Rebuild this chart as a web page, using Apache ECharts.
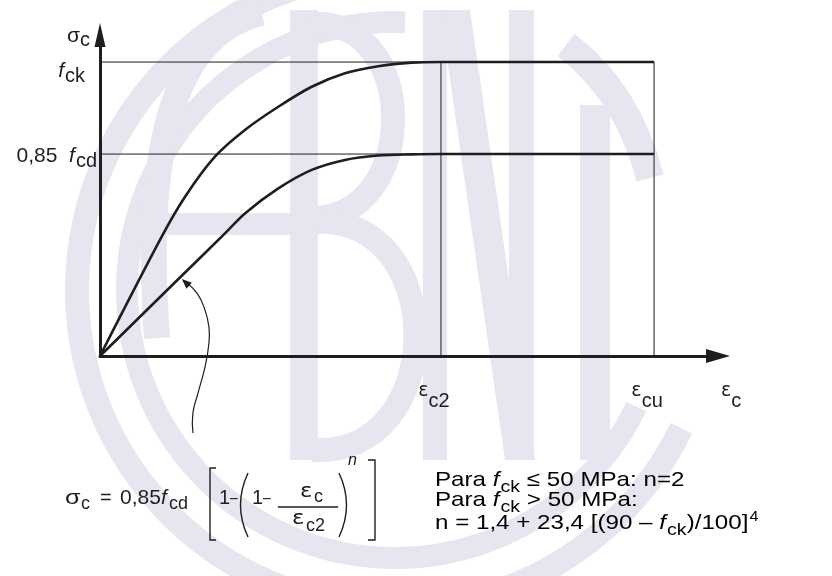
<!DOCTYPE html>
<html>
<head>
<meta charset="utf-8">
<script src="https://cdn.jsdelivr.net/npm/echarts@6/dist/echarts.min.js"></script>
<style>
html, body { margin: 0; background: #fff; }
#main { width: 832px; height: 576px; }
</style>
</head>
<body>
<div id="main"></div>
<script>
// strain axis (units where εc2 = 2) and stress axis (fck = 1)
var strainTicks = [2, 3.25];            // εc2, εcu
var strainNames = ['c2', 'cu'];
var stressTicks = [0.687, 1];           // 0,85 fcd, fck

// curves
var curveFck = [[0, 0], [0.362, 0.406], [0.499, 0.542], [0.674, 0.678], [0.85, 0.769],
    [1.046, 0.848], [1.242, 0.916], [1.437, 0.962], [1.632, 0.986], [1.828, 0.998],
    [2, 1], [3.25, 1]];
var curveFcd = [[0, 0], [0.469, 0.267], [0.733, 0.417], [0.85, 0.485], [1.046, 0.57],
    [1.242, 0.633], [1.437, 0.667], [1.632, 0.682], [1.828, 0.686], [2, 0.687], [3.25, 0.687]];

// pointer from the formula to the lower curve
var pointer = [[0.545, -0.262], [0.545, -0.194], [0.575, -0.126], [0.616, -0.037],
    [0.639, 0.044], [0.639, 0.099], [0.616, 0.156], [0.569, 0.214], [0.48, 0.262]];

var ink = '#1e1e1e';
var lav = '#e6e6f1';
var font = '"Liberation Sans", Arial, sans-serif';
var epsFont = '"DejaVu Sans", sans-serif';

var chart = echarts.init(document.getElementById('main'));

function guide(data) {
    return {
        type: 'line', data: data, symbol: 'none', silent: true,
        lineStyle: { color: ink, width: 1 }, z: 3
    };
}
var eC2 = strainTicks[0], eCu = strainTicks[1];
var sFcd = stressTicks[0], sFck = stressTicks[1];

var xRich = {
    e: { fontSize: 19, fontFamily: epsFont, color: ink, verticalAlign: 'bottom', padding: [0, 0, 10, 0] },
    s: { fontSize: 20, fontFamily: font, color: ink, verticalAlign: 'bottom' }
};
var yRich = {
    m: { fontSize: 21, fontFamily: font, color: ink, verticalAlign: 'bottom', padding: [0, 0, 5, 0] },
    i: { fontSize: 21, fontFamily: font, color: ink, fontStyle: 'italic', verticalAlign: 'bottom', padding: [0, 1, 5, 0] },
    k: { fontSize: 20, fontFamily: font, color: ink, verticalAlign: 'bottom', padding: [29, 12, 0, 0] },
    d: { fontSize: 20, fontFamily: font, color: ink, verticalAlign: 'bottom', padding: [15, 0, 0, 0] },
    g: { fontSize: 21, fontFamily: font, color: ink, verticalAlign: 'bottom', padding: [0, 0, 3, 0] },
    c: { fontSize: 20, fontFamily: font, color: ink, verticalAlign: 'bottom' }
};

// watermark (ABNT logo), drawn behind the chart
var watermark = [
    { type: 'arc', shape: { cx: 395, cy: 290, r: 318, startAngle: 0.45, endAngle: 4.75, clockwise: true },
      style: { stroke: lav, lineWidth: 24, fill: null } },
    { type: 'arc', shape: { cx: 395, cy: 290, r: 268, startAngle: 0.45, endAngle: 4.75, clockwise: true },
      style: { stroke: lav, lineWidth: 22, fill: null } },
    { type: 'bezierCurve', shape: { x1: 157, y1: 338, cpx1: 135, cpy1: 40, x2: 262, y2: 13 },
      style: { stroke: lav, lineWidth: 26, fill: null } },
    { type: 'rect', shape: { x: 290, y: 10, width: 28, height: 450 }, style: { fill: lav } },
    { type: 'rect', shape: { x: 150, y: 213, width: 140, height: 22 }, style: { fill: lav } },
    { type: 'bezierCurve', shape: { x1: 312, y1: 24, cpx1: 420, cpy1: 18, cpx2: 420, cpy2: 218, x2: 312, y2: 218 },
      style: { stroke: lav, lineWidth: 24, fill: null } },
    { type: 'bezierCurve', shape: { x1: 312, y1: 222, cpx1: 450, cpy1: 212, cpx2: 450, cpy2: 458, x2: 312, y2: 450 },
      style: { stroke: lav, lineWidth: 24, fill: null } },
    { type: 'rect', shape: { x: 423, y: 10, width: 24, height: 450 }, style: { fill: lav } },
    { type: 'polygon', shape: { points: [[440, 10], [470, 10], [535, 460], [505, 460]] }, style: { fill: lav } },
    { type: 'rect', shape: { x: 509, y: 10, width: 25, height: 450 }, style: { fill: lav } },
    { type: 'rect', shape: { x: 580, y: 105, width: 30, height: 355 }, style: { fill: lav } },
    { type: 'bezierCurve', shape: { x1: 566, y1: 45, cpx1: 628, cpy1: 92, x2: 650, y2: 178 },
      style: { stroke: lav, lineWidth: 28, fill: null } }
].map(function (el) { el.z = -100; el.silent = true; return el; });

// text placed by its baseline (top of em box sits 0.81 * size above it)
function txt(x, base, text, size, italic, family, sx) {
    return {
        type: 'text', z: 5, silent: true, x: x, y: base - 0.81 * size, scaleX: sx || 1,
        style: {
            x: 0, y: 0, text: text, fill: ink, verticalAlign: 'top',
            font: (italic ? 'italic ' : '') + size + 'px ' + (family || font)
        }
    };
}
function stroke(el) { el.z = 5; el.silent = true; el.style = { stroke: ink, lineWidth: 1.4, fill: null }; return el; }

var formula = [
    txt(65, 505, 'σ', 21, false, null, 1.2), txt(81, 510, 'c', 18),
    txt(100, 505, '=', 20), txt(120, 505, '0,85', 21), txt(161, 505, 'f', 21, true), txt(169, 510, 'cd', 18),
    stroke({ type: 'polyline', shape: { points: [[216, 468], [210, 468], [210, 540], [216, 540]] } }),
    txt(219, 505, '1', 20), txt(229, 505, '−', 16),
    stroke({ type: 'bezierCurve', shape: { x1: 248, y1: 473, cpx1: 233, cpy1: 505, x2: 248, y2: 537 } }),
    txt(252, 505, '1', 20), txt(262, 505, '−', 16),
    txt(300, 498, 'ε', 20, false, epsFont, 1.15), txt(314, 503, 'c', 18),
    stroke({ type: 'line', shape: { x1: 278, y1: 507, x2: 338, y2: 507 } }),
    txt(292, 525, 'ε', 20, false, epsFont, 1.15), txt(306, 532, 'c2', 18),
    stroke({ type: 'bezierCurve', shape: { x1: 339, y1: 473, cpx1: 354, cpy1: 505, x2: 339, y2: 537 } }),
    txt(348, 466, 'n', 16, true),
    stroke({ type: 'polyline', shape: { points: [[368, 460], [375, 460], [375, 540], [368, 540]] } })
];

var paraRich = {
    m: { fontSize: 21, fontFamily: font, color: ink, verticalAlign: 'bottom', padding: [0, 0, 5, 0] },
    i: { fontSize: 21, fontFamily: font, color: ink, fontStyle: 'italic', verticalAlign: 'bottom', padding: [0, 1, 5, 0] },
    s: { fontSize: 17, fontFamily: font, color: ink, verticalAlign: 'bottom' },
    p: { fontSize: 14, fontFamily: font, color: ink, verticalAlign: 'bottom', padding: [0, 0, 15, 1] }
};
var paraLines = [
    '{m|Para }{i|f}{s|ck}{m| ≤ 50 MPa: n=2}',
    '{m|Para }{i|f}{s|ck}{m| > 50 MPa:}',
    '{m|n = 1,4 + 23,4 [(90 – }{i|f}{s|ck}{m|)/100]}{p|4}'
];
var para = paraLines.map(function (t, k) {
    return {
        type: 'text', z: 5, silent: true, x: 435, y: 470 + k * 20, scaleX: 1.15,
        style: { text: t, rich: paraRich, align: 'left', verticalAlign: 'top' }
    };
});

chart.setOption({
    backgroundColor: '#fff',
    animation: false,
    grid: { left: 100, right: 114, top: 35, bottom: 220 },
    xAxis: {
        type: 'value', min: 0, max: 3.625,
        splitLine: { show: false },
        axisTick: { show: false },
        axisLine: {
            onZero: false,
            lineStyle: { color: ink, width: 3 },
            symbol: ['none', 'triangle'], symbolSize: [14, 24]
        },
        axisLabel: {
            customValues: strainTicks,
            margin: 26,
            padding: [0, 14, 0, 0],
            formatter: function (v) {
                return '{e|ε}{s|' + strainNames[strainTicks.indexOf(v)] + '}';
            },
            rich: xRich
        },
        name: '{e|ε}{s|c}',
        nameLocation: 'end',
        nameGap: 3,
        nameTextStyle: { rich: xRich, verticalAlign: 'top', align: 'left', padding: [26, 0, 0, 0] }
    },
    yAxis: {
        type: 'value', min: 0, max: 1.092,
        splitLine: { show: false },
        axisTick: { show: false },
        axisLine: {
            onZero: false,
            lineStyle: { color: ink, width: 3 },
            symbol: ['none', 'triangle'], symbolSize: [11, 24]
        },
        axisLabel: {
            customValues: stressTicks,
            margin: 3,
            formatter: function (v) {
                return v === sFck ? '{i|f}{k|ck}' : '{m|0,85  }{i|f}{d|cd}';
            },
            rich: yRich
        },
        name: '{g|σ}{c|c}',
        nameLocation: 'end',
        nameGap: 0,
        nameTextStyle: { rich: yRich, align: 'right', verticalAlign: 'middle', padding: [6, 10, 0, 0] }
    },
    graphic: watermark.concat(formula, para),
    series: [
        guide([[0, sFck], [eCu, sFck]]),
        guide([[0, sFcd], [eCu, sFcd]]),
        guide([[eC2, 0], [eC2, sFck]]),
        guide([[eCu, 0], [eCu, sFck]]),
        {
            type: 'line', data: curveFck, symbol: 'none', smooth: 0.3,
            lineStyle: { color: ink, width: 2.6 }, z: 4
        },
        {
            type: 'line', data: curveFcd, symbol: 'none', smooth: 0.3,
            lineStyle: { color: ink, width: 2.6 }, z: 4
        }
    ]
});

// pointer: thin curved arrow placed through the axes' own scales
var pts = pointer.map(function (p) { return chart.convertToPixel({ gridIndex: 0 }, p); });
var tip = pts[pts.length - 1], prev = pts[pts.length - 2];
var ang = Math.atan2(tip[1] - prev[1], tip[0] - prev[0]);
function rot(dx, dy) {
    return [tip[0] + dx * Math.cos(ang) - dy * Math.sin(ang), tip[1] + dx * Math.sin(ang) + dy * Math.cos(ang)];
}
chart.setOption({
    graphic: watermark.concat(formula, para, [
        { type: 'polyline', z: 5, silent: true, shape: { points: pts.slice(0, -1).concat([rot(-6, 0)]), smooth: 0.5 },
          style: { stroke: ink, lineWidth: 1.2, fill: null } },
        { type: 'polygon', z: 5, silent: true, shape: { points: [tip, rot(-10, -4), rot(-10, 4)] },
          style: { fill: ink } }
    ])
});
</script>
</body>
</html>
